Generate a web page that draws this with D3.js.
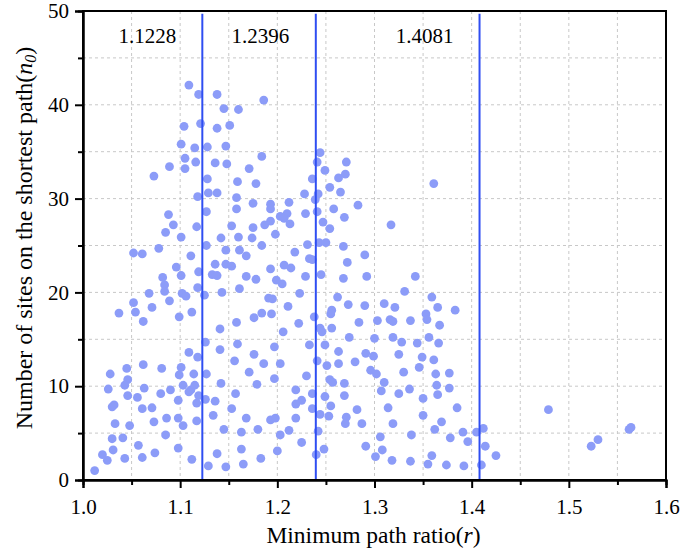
<!DOCTYPE html>
<html>
<head>
<meta charset="utf-8">
<script src="https://cdn.jsdelivr.net/npm/d3@7/dist/d3.min.js"></script>
<style>
  html, body { margin: 0; padding: 0; background: #fff; }
  text { font-family: "Liberation Serif", "Times New Roman", serif; fill: #000; }
</style>
</head>
<body>
<svg id="chart" width="681" height="554"></svg>
<script>
"use strict";

// Data: [minimum path ratio r, number of sites n0]
var points = [
  [1.109,42.1],[1.119,41.1],[1.104,37.7],[1.121,38.0],[1.101,35.8],[1.115,35.4],[1.105,34.3],[1.116,33.9],
  [1.089,33.4],[1.105,33.2],[1.073,32.4],[1.118,30.2],[1.088,28.3],[1.093,27.2],[1.117,27.0],[1.085,26.4],
  [1.101,25.9],[1.078,24.7],[1.052,24.2],[1.061,24.1],[1.111,23.9],[1.096,22.7],[1.119,22.2],[1.101,21.8],
  [1.082,21.6],
  [1.138,41.1],[1.186,40.5],[1.145,39.6],[1.160,39.5],[1.138,37.5],[1.151,37.8],[1.128,35.5],[1.147,35.6],
  [1.184,34.5],[1.136,33.8],[1.148,33.7],[1.171,33.2],[1.128,32.1],[1.159,31.8],[1.178,31.6],[1.129,30.6],
  [1.138,30.6],[1.158,30.1],[1.158,28.9],[1.175,29.5],[1.193,29.4],[1.193,28.9],[1.212,29.6],[1.228,30.5],
  [1.229,28.4],[1.127,28.6],[1.153,27.1],[1.175,26.9],[1.193,27.6],[1.203,28.1],[1.210,28.4],[1.207,27.9],
  [1.187,27.2],[1.213,27.3],[1.198,26.2],[1.142,25.8],[1.160,25.9],[1.174,25.8],[1.127,25.0],[1.184,25.0],
  [1.147,24.5],[1.161,24.5],[1.168,23.9],[1.218,24.3],[1.231,25.1],[1.233,23.6],[1.136,23.0],[1.147,23.0],
  [1.153,22.8],[1.193,22.5],[1.207,22.9],[1.214,22.6],[1.133,21.9],[1.138,21.8],[1.168,21.7],[1.178,21.4],
  [1.199,21.3],[1.229,21.7],
  [1.244,34.9],[1.241,33.9],[1.271,33.9],[1.249,33.0],[1.270,32.6],[1.263,32.2],[1.236,32.1],[1.254,31.2],
  [1.265,30.7],[1.242,30.5],[1.239,29.9],[1.283,29.3],[1.258,28.9],[1.241,28.6],[1.269,28.0],[1.247,27.5],
  [1.254,26.8],[1.317,27.2],[1.243,25.3],[1.250,25.3],[1.268,24.9],[1.290,24.0],[1.236,23.5],[1.272,23.2],
  [1.245,21.9],[1.268,21.5],[1.292,21.7],[1.342,21.7],[1.361,31.6],
  [1.084,20.8],[1.084,20.1],[1.068,19.9],[1.102,19.9],[1.106,19.6],[1.118,20.5],[1.089,19.1],[1.052,18.9],
  [1.071,18.4],[1.037,17.8],[1.054,17.9],[1.112,17.9],[1.099,17.4],[1.062,16.9],[1.109,13.6],[1.118,13.1],
  [1.062,12.3],[1.045,11.9],[1.081,11.9],[1.101,12.0],[1.028,11.3],[1.099,11.2],[1.114,11.3],[1.046,10.7],
  [1.043,10.1],[1.063,9.8],[1.026,9.7],[1.103,10.1],[1.111,9.6],[1.115,10.1],[1.080,9.2],[1.090,9.6],
  [1.109,9.4],[1.046,9.0],[1.056,8.8],[1.098,8.5],[1.117,8.2],[1.032,8.0],[1.030,7.8],[1.061,7.6],
  [1.071,7.7],[1.086,6.6],[1.098,6.6],[1.073,6.2],[1.033,6.0],[1.048,5.8],[1.103,5.8],[1.117,6.3],
  [1.085,4.8],[1.030,4.4],[1.041,4.5],[1.057,3.7],[1.098,3.4],[1.031,3.2],[1.020,2.7],[1.074,2.9],
  [1.025,2.1],[1.043,2.3],[1.061,2.4],[1.112,2.2],[1.012,1.0],
  [1.125,19.7],[1.143,20.0],[1.161,20.4],[1.191,19.4],[1.195,19.3],[1.223,19.9],[1.211,18.5],[1.184,17.8],
  [1.194,17.7],[1.176,17.3],[1.158,16.8],[1.141,16.1],[1.222,16.7],[1.206,15.8],[1.126,14.7],[1.159,14.5],
  [1.141,13.9],[1.197,14.2],[1.176,13.4],[1.233,14.4],[1.156,12.7],[1.186,12.4],[1.203,12.4],[1.171,11.5],
  [1.197,10.8],[1.127,11.3],[1.142,10.3],[1.179,10.2],[1.230,11.1],[1.219,9.6],[1.157,9.2],[1.119,9.0],
  [1.126,8.6],[1.136,8.4],[1.225,8.5],[1.219,8.1],[1.153,7.6],[1.134,6.9],[1.168,6.6],[1.193,6.4],
  [1.198,6.6],[1.219,6.6],[1.145,5.4],[1.163,5.1],[1.180,5.4],[1.212,5.3],[1.203,4.8],[1.225,4.0],
  [1.163,3.3],[1.200,3.1],[1.138,2.8],[1.183,2.3],[1.165,1.7],[1.129,1.5],[1.147,1.4],[1.205,20.9],
  [1.331,20.1],[1.262,19.5],[1.273,18.7],[1.290,18.6],[1.310,18.8],[1.321,18.4],[1.256,18.1],[1.255,17.7],
  [1.238,17.4],[1.284,16.8],[1.303,17.0],[1.316,17.1],[1.319,16.9],[1.337,17.0],[1.244,16.2],[1.246,15.8],
  [1.256,16.2],[1.274,15.2],[1.300,15.1],[1.319,15.2],[1.328,14.7],[1.344,14.6],[1.249,14.4],[1.263,13.7],
  [1.291,13.5],[1.299,13.2],[1.325,13.4],[1.241,12.7],[1.251,12.2],[1.263,12.4],[1.280,12.6],[1.346,12.0],
  [1.296,11.7],[1.302,11.3],[1.330,11.5],[1.254,10.7],[1.257,10.4],[1.269,10.3],[1.310,10.4],[1.307,9.5],
  [1.336,9.7],[1.325,9.2],[1.236,9.2],[1.249,8.9],[1.269,9.0],[1.236,7.6],[1.255,7.9],[1.282,7.5],
  [1.314,7.7],[1.244,7.0],[1.253,6.8],[1.271,6.7],[1.270,6.0],[1.287,6.0],[1.319,6.0],[1.242,5.2],
  [1.306,4.6],[1.338,4.8],[1.291,3.6],[1.248,3.3],[1.308,3.2],[1.240,2.7],[1.301,2.5],[1.318,2.1],
  [1.337,2.0],
  [1.359,19.5],[1.365,18.4],[1.383,18.1],[1.353,17.7],[1.354,17.1],[1.367,16.5],[1.356,15.2],[1.366,14.6],
  [1.349,13.1],[1.361,12.8],[1.363,11.3],[1.377,11.4],[1.364,10.1],[1.377,9.8],[1.365,9.1],[1.350,8.7],
  [1.385,7.7],[1.350,6.9],[1.369,6.2],[1.362,5.4],[1.391,5.1],[1.405,5.1],[1.412,5.5],[1.378,4.5],
  [1.396,4.1],[1.414,3.6],[1.425,2.6],[1.359,2.6],[1.355,1.7],[1.374,1.6],[1.392,1.5],[1.410,1.6],
  [1.479,7.5],[1.562,5.4],[1.564,5.6],[1.523,3.6],[1.530,4.3]
];
var thresholds = [1.1228, 1.2396, 1.4081];
var thresholdLabels = ["1.1228", "1.2396", "1.4081"];
var xTicks = [1.0, 1.1, 1.2, 1.3, 1.4, 1.5, 1.6];
var xMinor = [1.05, 1.15, 1.25, 1.35, 1.45, 1.55];
var yTicks = [0, 10, 20, 30, 40, 50];
var yMinor = [5, 15, 25, 35, 45];

// Layout
var svg = d3.select("#chart");
var plotLeft = 83, plotTop = 11, plotRight = 666, plotBottom = 480;
var dotColour = "#8c9cf8";
var lineColour = "#2f4ef2";

var x = d3.scaleLinear().domain([1.0, 1.6]).range([plotLeft, plotRight]);
var y = d3.scaleLinear().domain([0, 50]).range([plotBottom, plotTop]);

svg.append("rect").attr("width", 681).attr("height", 554).attr("fill", "#fff");

// Grid (dashed, every 0.05 / 5)
var gridX = xTicks.concat(xMinor).filter(function(d) { return d > 1.0 && d < 1.6; });
var gridY = yTicks.concat(yMinor).filter(function(d) { return d > 0 && d < 50; });
svg.append("g").selectAll("line").data(gridX).join("line")
  .attr("x1", function(d) { return x(d); }).attr("x2", function(d) { return x(d); })
  .attr("y1", plotTop).attr("y2", plotBottom)
  .attr("stroke", "#c8c8c8").attr("stroke-width", 1).attr("stroke-dasharray", "3,3");
svg.append("g").selectAll("line").data(gridY).join("line")
  .attr("x1", plotLeft).attr("x2", plotRight)
  .attr("y1", function(d) { return y(d); }).attr("y2", function(d) { return y(d); })
  .attr("stroke", "#c8c8c8").attr("stroke-width", 1).attr("stroke-dasharray", "3,3");

// Points
svg.append("g").selectAll("circle").data(points).join("circle")
  .attr("cx", function(d) { return x(d[0]); })
  .attr("cy", function(d) { return y(d[1]); })
  .attr("r", 4.4)
  .attr("fill", dotColour);

// Threshold lines + labels
svg.append("g").selectAll("line").data(thresholds).join("line")
  .attr("x1", function(d) { return x(d); }).attr("x2", function(d) { return x(d); })
  .attr("y1", y(0)).attr("y2", y(49.7))
  .attr("stroke", lineColour).attr("stroke-width", 2);

var labelPos = [1.0663, 1.1825, 1.3515];
svg.append("g").selectAll("text").data(thresholdLabels).join("text")
  .attr("x", function(d, i) { return x(labelPos[i]); })
  .attr("y", 43)
  .attr("text-anchor", "middle")
  .style("font-size", "21px")
  .text(function(d) { return d; });

// Frame
svg.append("rect")
  .attr("x", plotLeft).attr("y", plotTop)
  .attr("width", plotRight - plotLeft).attr("height", plotBottom - plotTop)
  .attr("fill", "none").attr("stroke", "#000").attr("stroke-width", 2);

// Axes
var xAxis = svg.append("g").attr("transform", "translate(0," + plotBottom + ")")
  .call(d3.axisBottom(x).tickValues(xTicks).tickFormat(d3.format(".1f")).tickSize(8).tickPadding(11));
var xAxisMinor = svg.append("g").attr("transform", "translate(0," + plotBottom + ")")
  .call(d3.axisBottom(x).tickValues(xMinor).tickFormat("").tickSize(5));
var yAxis = svg.append("g").attr("transform", "translate(" + plotLeft + ",0)")
  .call(d3.axisLeft(y).tickValues(yTicks).tickSize(8).tickPadding(6));
var yAxisMinor = svg.append("g").attr("transform", "translate(" + plotLeft + ",0)")
  .call(d3.axisLeft(y).tickValues(yMinor).tickFormat("").tickSize(5));

[xAxis, xAxisMinor, yAxis, yAxisMinor].forEach(function(a) {
  a.select(".domain").attr("stroke", "#000").attr("stroke-width", 2);
  a.selectAll(".tick line").attr("stroke", "#000").attr("stroke-width", 2);
  a.selectAll(".tick text").style("font-size", "21px")
    .style("font-family", "'Liberation Serif', 'Times New Roman', serif").attr("fill", "#000");
});

// Axis titles
var xt = svg.append("text")
  .attr("x", (plotLeft + plotRight) / 2 - 1)
  .attr("y", 543)
  .attr("text-anchor", "middle")
  .style("font-size", "23.5px");
xt.append("tspan").text("Minimum path ratio(");
xt.append("tspan").style("font-style", "italic").text("r");
xt.append("tspan").text(")");

var yt = svg.append("text")
  .attr("transform", "translate(32," + 238 + ") rotate(-90)")
  .attr("text-anchor", "middle")
  .style("font-size", "24px");
yt.append("tspan").text("Number of sites on the shortest path(");
yt.append("tspan").style("font-style", "italic").text("n");
yt.append("tspan").style("font-style", "italic").style("font-size", "16px").attr("dy", 4).text("0");
yt.append("tspan").attr("dy", -4).text(")");
</script>
</body>
</html>
